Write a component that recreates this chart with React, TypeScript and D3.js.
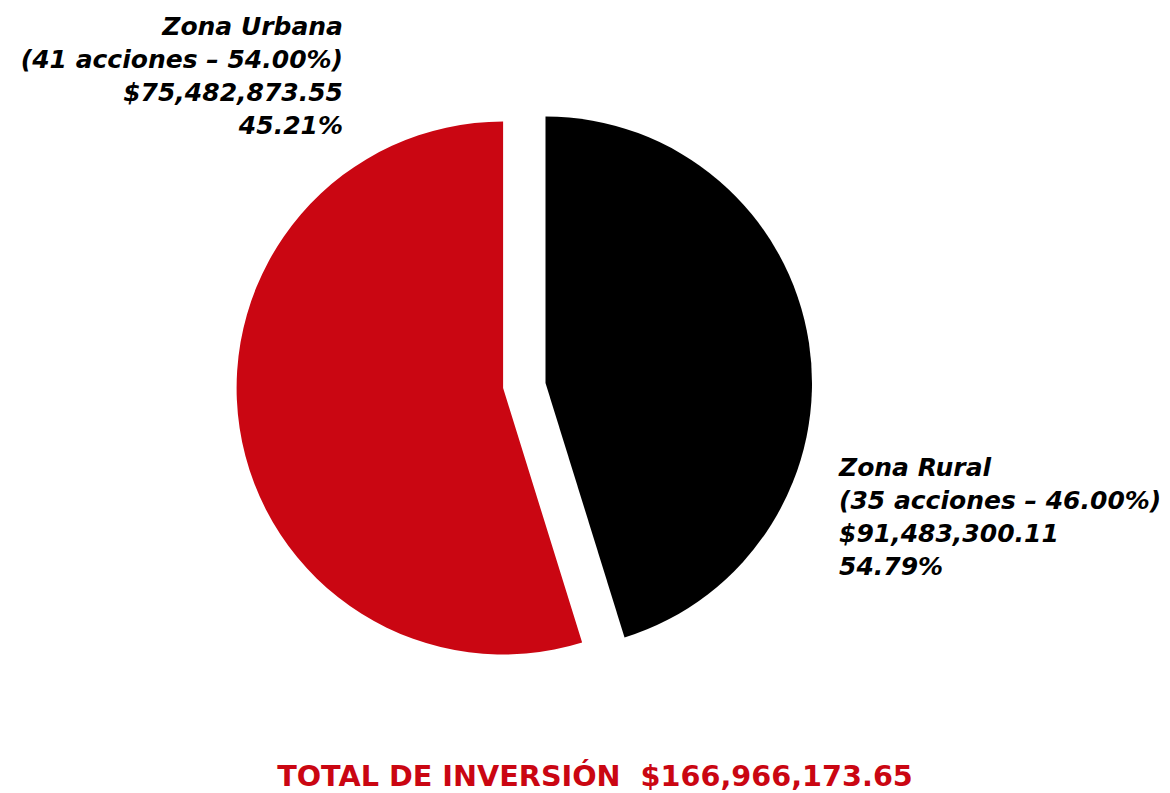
import React, { useEffect, useRef } from 'react';
import * as d3 from 'd3';

// datos del grafico
const zonas = ['Zona Urbana', 'Zona Rural'];
const acciones = [41, 35];
const accionesPct = [54.0, 46.0];
const inversion = [75482873.55, 91483300.11];
const inversionPct = [45.21, 54.79];
const totalInversion = 166966173.65;

const sliceColors = ['#000000', '#CA0612'];
const RED = '#CA0612';

const App = () => {
  const svgRef = useRef(null);

  useEffect(() => {
    d3.select(svgRef.current).selectAll('*').remove();

    const width = 1170;
    const height = 793;
    const cx = 524.3;
    const cy = 385.5;
    const radius = 266.5;
    // desplazamiento de cada rebanada (explode)
    const offsets = [
      [21.2, -2.5],
      [-21.2, 2.5],
    ];

    const svg = d3
      .select(svgRef.current)
      .attr('width', width)
      .attr('height', height);

    const pie = d3
      .pie<number>()
      .sort(null)
      .value((d) => d)
      .startAngle(0)
      .endAngle(Math.PI * 2);

    const arc = d3.arc<d3.PieArcDatum<number>>().innerRadius(0).outerRadius(radius);

    const g = svg.append('g').attr('transform', `translate(${cx},${cy})`);

    g.selectAll('path')
      .data(pie(inversion))
      .enter()
      .append('path')
      .attr('d', arc)
      .attr('fill', (d, i) => sliceColors[i])
      .attr('transform', (d, i) => `translate(${offsets[i][0]},${offsets[i][1]})`);

    const money = d3.format('$,.2f');
    const pct = d3.format('.2f');

    const lines = (i) => [
      zonas[i],
      `(${acciones[i]} acciones – ${pct(accionesPct[i])}%)`,
      money(inversion[i]),
      `${pct(inversionPct[i])}%`,
    ];

    const labelFont = {
      family: '"DejaVu Sans", sans-serif',
      size: 25,
      weight: 700,
    };

    // etiqueta Zona Urbana (arriba izquierda)
    const left = svg
      .append('text')
      .attr('text-anchor', 'end')
      .attr('font-family', labelFont.family)
      .attr('font-size', labelFont.size)
      .attr('font-weight', labelFont.weight)
      .attr('font-style', 'italic')
      .attr('fill', '#000');
    lines(0).forEach((t, k) => {
      left.append('tspan').attr('x', 343).attr('y', 35 + k * 33).text(t);
    });

    // etiqueta Zona Rural (derecha)
    const right = svg
      .append('text')
      .attr('text-anchor', 'start')
      .attr('font-family', labelFont.family)
      .attr('font-size', labelFont.size)
      .attr('font-weight', labelFont.weight)
      .attr('font-style', 'italic')
      .attr('fill', '#000');
    lines(1).forEach((t, k) => {
      right.append('tspan').attr('x', 839).attr('y', 476 + k * 33).text(t);
    });

    // total
    svg
      .append('text')
      .attr('x', 595)
      .attr('y', 786)
      .attr('text-anchor', 'middle')
      .attr('font-family', '"DejaVu Sans", sans-serif')
      .attr('font-size', 28.7)
      .attr('font-weight', 700)
      .attr('fill', RED)
      .attr('xml:space', 'preserve')
      .style('white-space', 'pre')
      .text(`TOTAL DE INVERSIÓN  ${money(totalInversion)}`);
  }, []);

  return (
    <div style={{ position: 'absolute', left: 0, top: 0 }}>
      <svg ref={svgRef} style={{ display: 'block' }}></svg>
    </div>
  );
};

export default App;
